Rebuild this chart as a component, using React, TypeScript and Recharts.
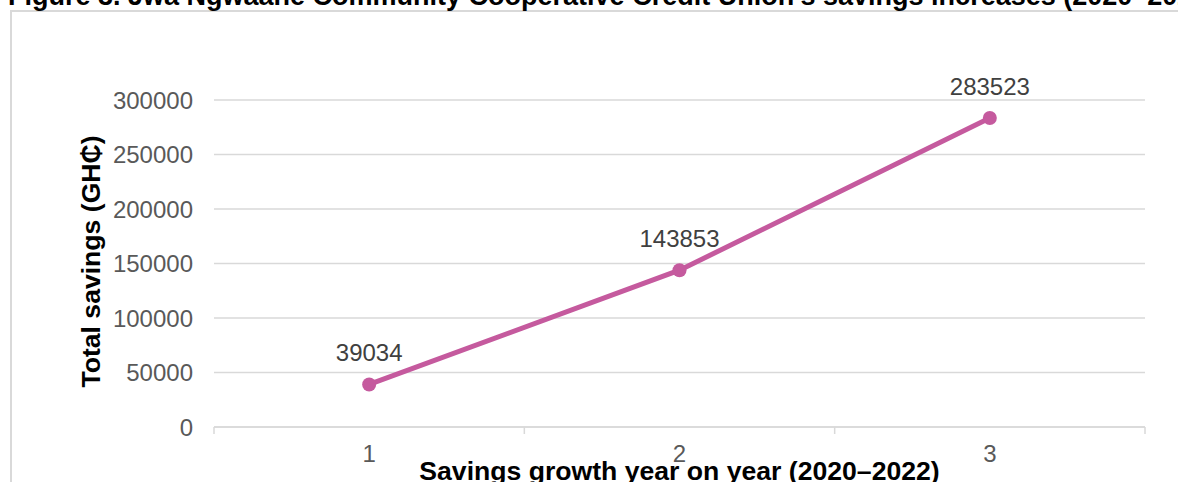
import { LineChart, Line, XAxis, YAxis, CartesianGrid, LabelList, Label } from "recharts";

const YEARS = [1, 2, 3];
const SAVINGS = [39034, 143853, 283523];
const Y_TICKS = [0, 50000, 100000, 150000, 200000, 250000, 300000];
// category centres plus the band edges between them (edges get tick marks)
const X_TICKS = [0.5, 1, 1.5, 2, 2.5, 3, 3.5];

const TITLE = "Figure 3. Jwa Ngwaane Community Cooperative Credit Union's savings increases (2020–2022)";
const X_TITLE = "Savings growth year on year (2020–2022)";
const Y_TITLE = "Total savings (GH₵)";

const FONT = "'Liberation Sans', Arial, sans-serif";
const LINE_COLOR = "#c55a9e";
const GRID_COLOR = "#d9d9d9";

const data = YEARS.map((year, i) => ({ year, savings: SAVINGS[i] }));

function XTick(props: any) {
  const { x, y, payload } = props;
  if (Number.isInteger(payload.value)) {
    return (
      <text x={x} y={y + 35} textAnchor="middle" fill="#595959" fontSize={24} fontFamily={FONT}>
        {payload.value}
      </text>
    );
  }
  return <line x1={x} x2={x} y1={y} y2={y + 7} stroke={GRID_COLOR} strokeWidth={1.5} />;
}

export default function App() {
  return (
    <div
      style={{
        position: "absolute",
        left: 0,
        top: 0,
        width: 1178,
        height: 482,
        overflow: "hidden",
        background: "#fff",
        fontFamily: FONT,
      }}
    >
      <div
        style={{
          position: "absolute",
          left: 10,
          top: 10,
          width: 1250,
          height: 520,
          border: `2px solid ${GRID_COLOR}`,
        }}
      />
      <div
        style={{
          position: "absolute",
          left: 8,
          top: -17,
          fontSize: 27,
          lineHeight: "27px",
          fontWeight: "bold",
          whiteSpace: "nowrap",
          color: "#000",
        }}
      >
        {TITLE}
      </div>
      <div style={{ position: "absolute", left: 0, top: 0 }}>
        <LineChart
          width={1178}
          height={482}
          data={data}
          margin={{ top: 100, right: 33, bottom: 0, left: 0 }}
        >
          <CartesianGrid vertical={false} stroke={GRID_COLOR} strokeWidth={1.5} />
          <XAxis
            dataKey="year"
            type="number"
            domain={[0.5, 3.5]}
            ticks={X_TICKS}
            interval={0}
            allowDecimals
            height={55}
            tickLine={false}
            tickSize={0}
            tickMargin={0}
            axisLine={{ stroke: GRID_COLOR, strokeWidth: 1.5 }}
            tick={<XTick />}
          >
            <Label
              content={({ viewBox }: any) => (
                <text
                  x={viewBox.x + viewBox.width / 2}
                  y={viewBox.y + 53}
                  textAnchor="middle"
                  fontSize={26.6}
                  fontWeight="bold"
                  fontFamily={FONT}
                  fill="#000"
                >
                  {X_TITLE}
                </text>
              )}
            />
          </XAxis>
          <YAxis
            type="number"
            domain={[0, 300000]}
            ticks={Y_TICKS}
            width={214}
            axisLine={false}
            tickLine={false}
            tickSize={0}
            tickMargin={21}
            tick={{ fill: "#595959", fontSize: 24, fontFamily: FONT }}
          >
            <Label
              content={({ viewBox }: any) => {
                const cx = 100;
                const cy = viewBox.y + viewBox.height / 2 - 2;
                return (
                  <text
                    x={cx}
                    y={cy}
                    transform={`rotate(-90, ${cx}, ${cy})`}
                    textAnchor="middle"
                    fontSize={26.6}
                    fontWeight="bold"
                    fontFamily={FONT}
                    fill="#000"
                  >
                    {Y_TITLE}
                  </text>
                );
              }}
            />
          </YAxis>
          <Line
            type="linear"
            dataKey="savings"
            stroke={LINE_COLOR}
            strokeWidth={5}
            dot={{ r: 7, fill: LINE_COLOR, stroke: "none" }}
            activeDot={false}
            isAnimationActive={false}
          >
            <LabelList
              dataKey="savings"
              position="top"
              offset={23}
              fill="#404040"
              fontSize={24}
              fontFamily={FONT}
            />
          </Line>
        </LineChart>
      </div>
    </div>
  );
}
